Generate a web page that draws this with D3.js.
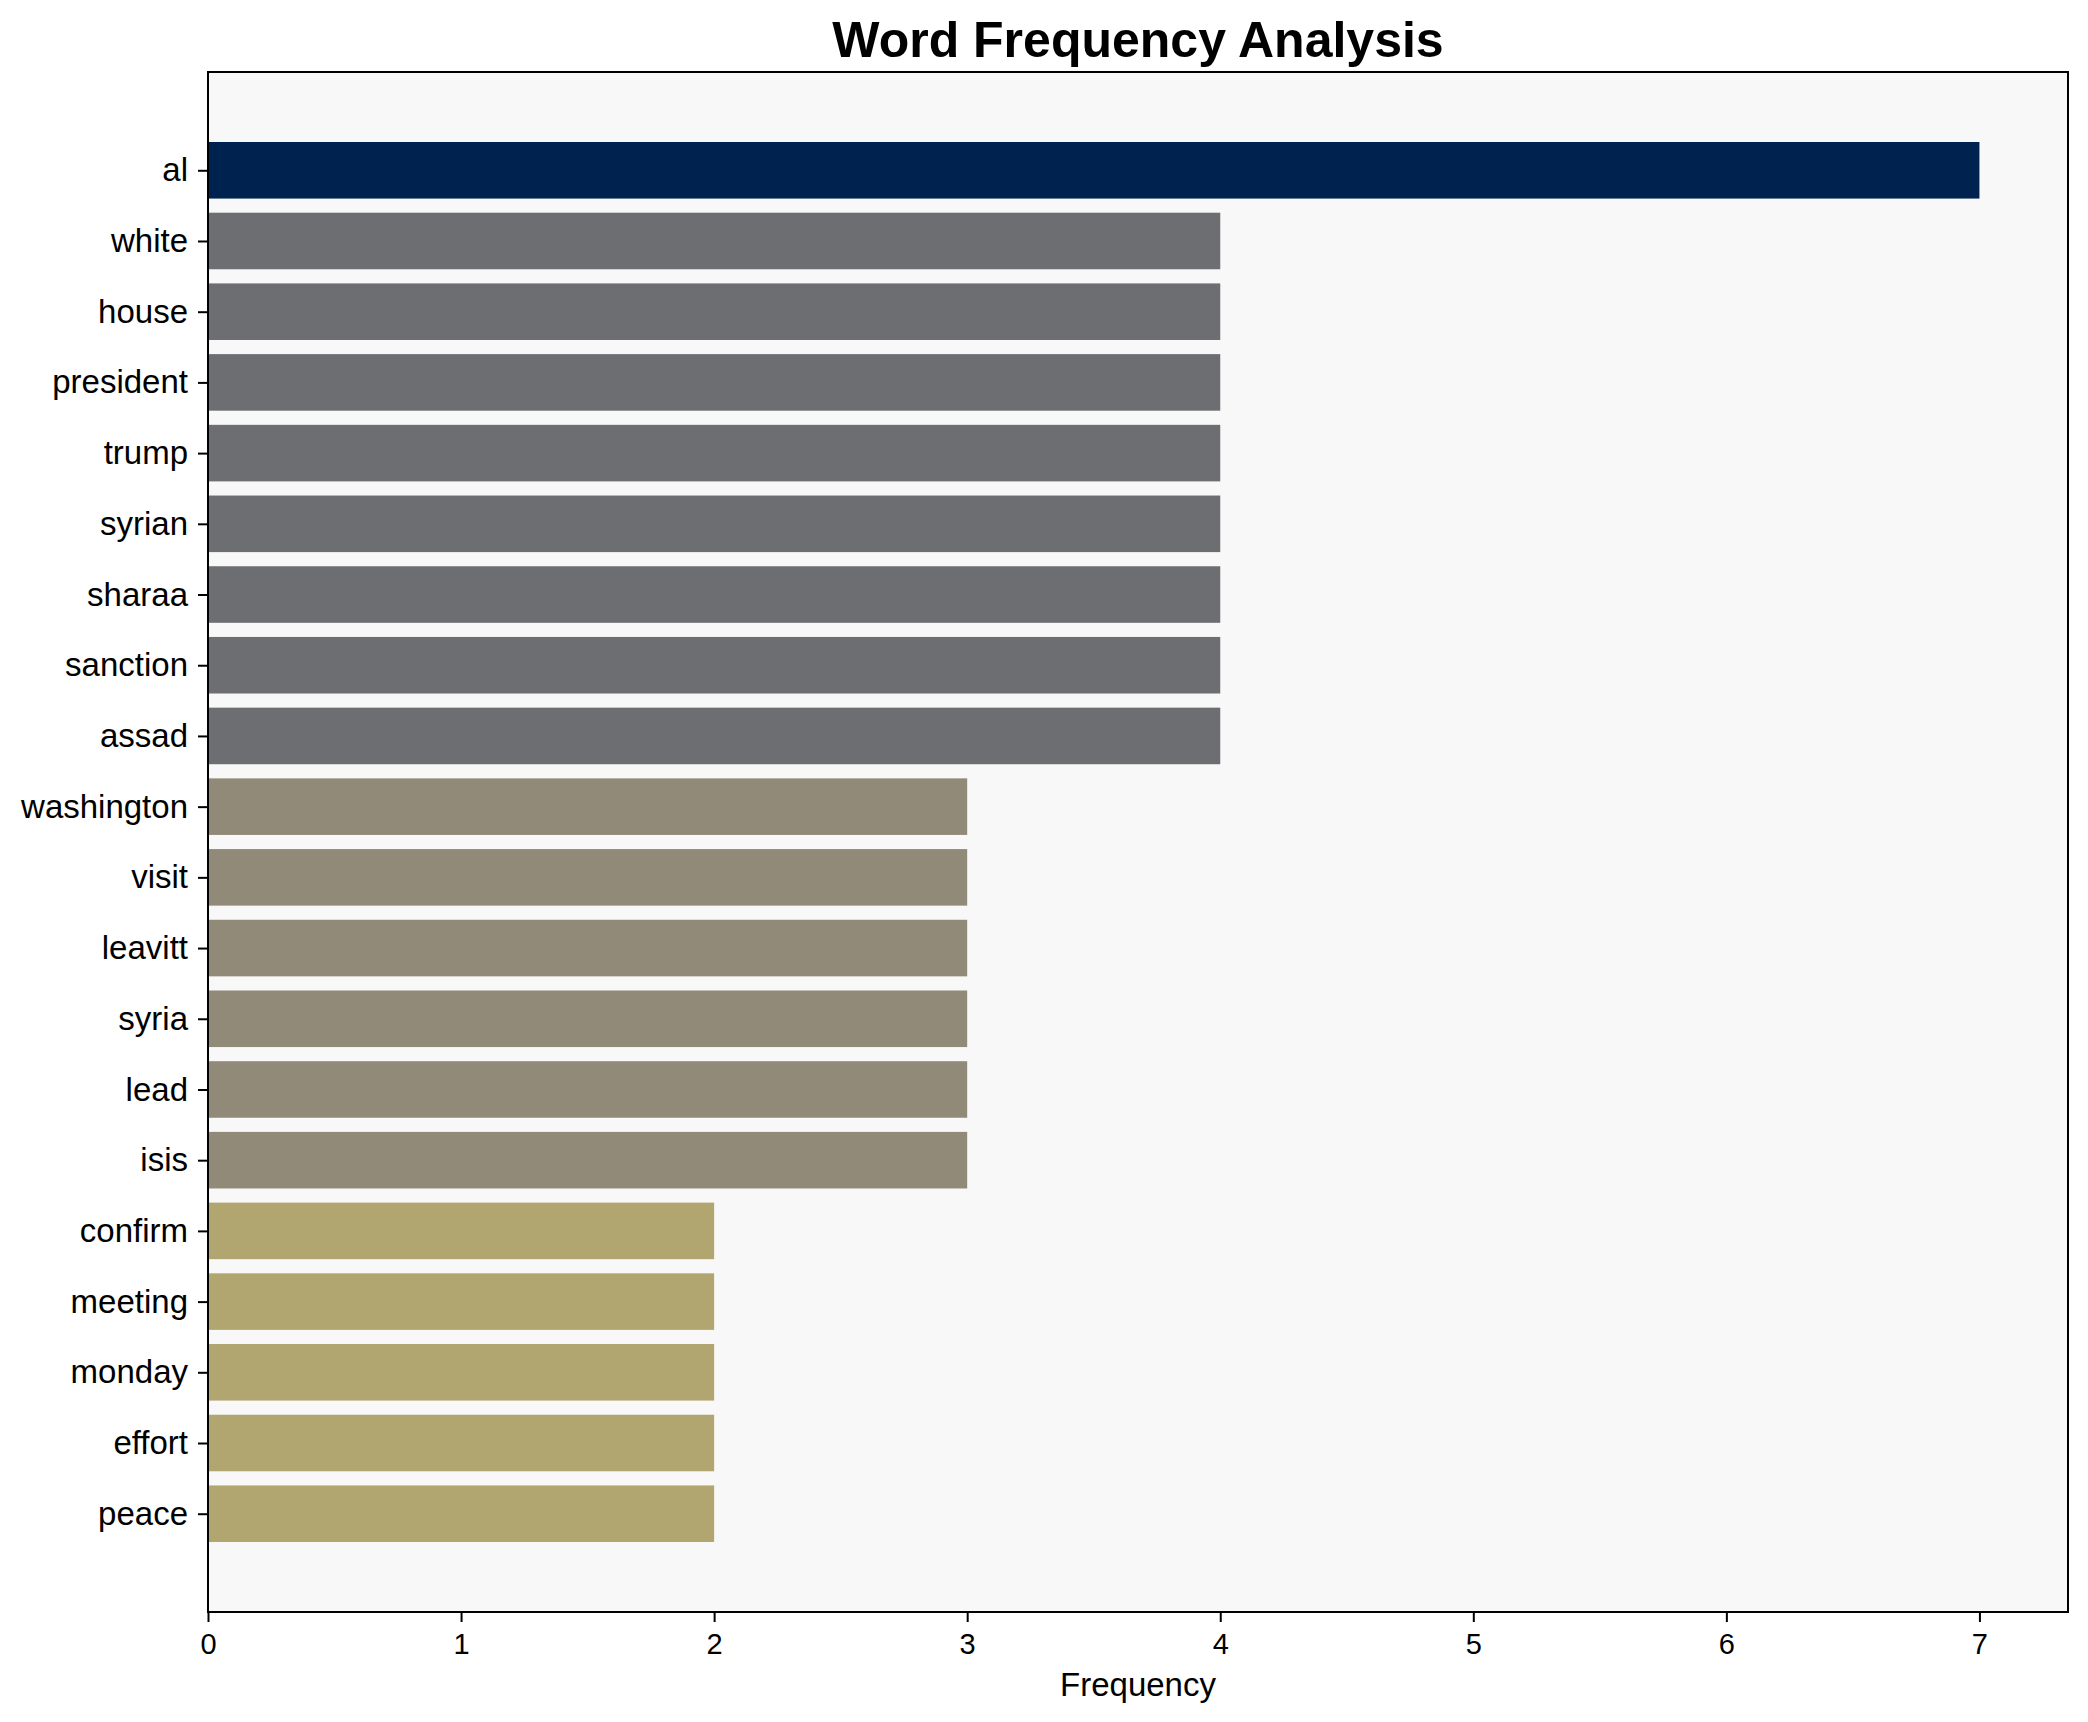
<!DOCTYPE html>
<html>
<head>
<meta charset="utf-8">
<script src="https://cdn.jsdelivr.net/npm/d3@7"></script>
<style>
  body { margin: 0; background: #fff; }
  svg { display: block; }
</style>
</head>
<body>
<div id="chart"></div>
<script>
// word counts, top to bottom
var words = ["al", "white", "house", "president", "trump", "syrian", "sharaa", "sanction", "assad",
  "washington", "visit", "leavitt", "syria", "lead", "isis",
  "confirm", "meeting", "monday", "effort", "peace"];
var counts = [7, 4, 4, 4, 4, 4, 4, 4, 4, 3, 3, 3, 3, 3, 3, 2, 2, 2, 2, 2];
var xTicks = [0, 1, 2, 3, 4, 5, 6, 7];

// one colour per count level
var levelColor = { 7: "#00224e", 4: "#6d6e72", 3: "#918a78", 2: "#b1a66f" };

const width = 2088, height = 1722;
const plotLeft = 208, plotRight = 2068, plotTop = 72, plotBottom = 1612;

const svg = d3.select("#chart").append("svg")
  .attr("width", width)
  .attr("height", height);

const x = d3.scaleLinear().domain([0, 7.35]).range([plotLeft, plotRight]);
// matplotlib style: index 0 at top, 5% margins
const y = d3.scaleLinear().domain([-1.39, words.length - 1 + 1.39]).range([plotTop, plotBottom]);
const barH = (y(1) - y(0)) * 0.8;

svg.append("rect")
  .attr("x", plotLeft).attr("y", plotTop)
  .attr("width", plotRight - plotLeft).attr("height", plotBottom - plotTop)
  .attr("fill", "#f8f8f8");

svg.append("g")
  .selectAll("rect")
  .data(words)
  .join("rect")
  .attr("x", x(0))
  .attr("y", (d, i) => y(i) - barH / 2)
  .attr("width", (d, i) => x(counts[i]) - x(0))
  .attr("height", barH)
  .attr("fill", (d, i) => levelColor[counts[i]]);

// frame
svg.append("rect")
  .attr("x", plotLeft).attr("y", plotTop)
  .attr("width", plotRight - plotLeft).attr("height", plotBottom - plotTop)
  .attr("fill", "none")
  .attr("stroke", "#000")
  .attr("stroke-width", 2);

// y axis
const yAxis = svg.append("g")
  .attr("transform", "translate(" + plotLeft + ",0)")
  .call(d3.axisLeft(y).tickValues(d3.range(words.length)).tickFormat(i => words[i]).tickSize(10).tickPadding(10));
yAxis.select(".domain").remove();
yAxis.selectAll("line").attr("stroke-width", 2);
yAxis.selectAll("text")
  .attr("font-family", "Liberation Sans, Arial, sans-serif")
  .attr("font-size", 33)
  .attr("fill", "#000");

// x axis
const xAxis = svg.append("g")
  .attr("transform", "translate(0," + plotBottom + ")")
  .call(d3.axisBottom(x).tickValues(xTicks).tickFormat(d3.format("d")).tickSize(10).tickPadding(11));
xAxis.select(".domain").remove();
xAxis.selectAll("line").attr("stroke-width", 2);
xAxis.selectAll("text")
  .attr("font-family", "Liberation Sans, Arial, sans-serif")
  .attr("font-size", 29)
  .attr("fill", "#000");

svg.append("text")
  .attr("x", (plotLeft + plotRight) / 2)
  .attr("y", 1696)
  .attr("text-anchor", "middle")
  .attr("font-family", "Liberation Sans, Arial, sans-serif")
  .attr("font-size", 33)
  .text("Frequency");

svg.append("text")
  .attr("x", (plotLeft + plotRight) / 2)
  .attr("y", 57)
  .attr("text-anchor", "middle")
  .attr("font-family", "Liberation Sans, Arial, sans-serif")
  .attr("font-weight", "bold")
  .attr("font-size", 50)
  .text("Word Frequency Analysis");
</script>
</body>
</html>
